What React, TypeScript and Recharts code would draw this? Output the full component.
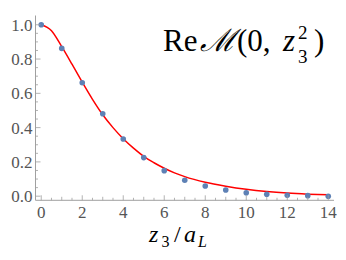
import { ComposedChart, Line, Scatter, XAxis, YAxis } from 'recharts';

// lattice data points
const pointX = [0, 1, 2, 3, 4, 5, 6, 7, 8, 9, 10, 11, 12, 13, 14];
const pointY = [1.0, 0.862, 0.662, 0.481, 0.334, 0.225, 0.149, 0.093, 0.059, 0.036, 0.02, 0.011, 0.005, 0.003, 0.0];

// fitted curve
const curveX = [0, 0.5, 1, 1.5, 2, 2.5, 3, 3.5, 4, 4.5, 5, 5.5, 6, 6.5, 7, 8, 9, 10, 11, 12, 13, 14];
const curveY = [1.0, 0.965, 0.872, 0.77, 0.665, 0.565, 0.475, 0.4, 0.335, 0.28, 0.232, 0.195, 0.163, 0.136, 0.114, 0.081, 0.058, 0.04, 0.027, 0.018, 0.012, 0.008];

const xTicks = Array.from({ length: 29 }, (_, i) => i * 0.5);
const yTicks = Array.from({ length: 21 }, (_, i) => Math.round(i * 5) / 100);

const points = pointX.map((x, i) => ({ x, y: pointY[i] }));
const curve = curveX.map((x, i) => ({ x, y: curveY[i] }));

const W = 346;
const H = 260;
const TOP = 15.5;
const BOTTOM = 200.3;
const LEFT = 35.5;
const RIGHT = 334;
const FRAME = '#a0a0a0';
const LABEL = '#555';
const SERIF = "'Liberation Serif', 'Times New Roman', 'DejaVu Serif', Times, serif";

const isMajorY = (v: number) => Math.round(v * 100) % 20 === 0;

const BottomTick = (props: any) => {
  const { x, payload } = props;
  const v = payload.value;
  const major = Math.abs(v % 2) < 1e-6;
  const len = major ? 5 : Math.abs(v % 1) < 1e-6 ? 3.5 : 2.5;
  return (
    <g>
      <line x1={x} x2={x} y1={BOTTOM} y2={BOTTOM - len} stroke={FRAME} strokeWidth={0.8} />
      {major && (
        <text x={x} y={BOTTOM + 17.5} textAnchor="middle" fill={LABEL} fontFamily={SERIF} fontSize={17}>
          {v}
        </text>
      )}
    </g>
  );
};

const TopTick = (props: any) => {
  const { x, payload } = props;
  const v = payload.value;
  const len = Math.abs(v % 2) < 1e-6 ? 4 : 2.5;
  return <line x1={x} x2={x} y1={TOP} y2={TOP + len} stroke={FRAME} strokeWidth={0.8} />;
};

const LeftTick = (props: any) => {
  const { y, payload } = props;
  const v = payload.value;
  const major = isMajorY(v);
  return (
    <g>
      <line x1={LEFT} x2={LEFT + (major ? 5 : 2.5)} y1={y} y2={y} stroke={FRAME} strokeWidth={0.8} />
      {major && (
        <text x={LEFT - 3} y={y + 6} textAnchor="end" fill={LABEL} fontFamily={SERIF} fontSize={17}>
          {v.toFixed(1)}
        </text>
      )}
    </g>
  );
};

const RightTick = (props: any) => {
  const { y, payload } = props;
  const major = isMajorY(payload.value);
  return <line x1={RIGHT} x2={RIGHT - (major ? 4 : 2.5)} y1={y} y2={y} stroke={FRAME} strokeWidth={0.8} />;
};

export default function App() {
  return (
    <div style={{ position: 'absolute', left: 0, top: 0, width: W, height: H, background: '#fff', fontFamily: SERIF }}>
      <ComposedChart
        width={W}
        height={H}
        margin={{ top: TOP, right: W - RIGHT, bottom: 0, left: 0 }}
      >
        <XAxis
          xAxisId="b"
          type="number"
          dataKey="x"
          domain={[-0.28, 14.28]}
          ticks={xTicks}
          interval={0}
          height={H - BOTTOM}
          tickLine={false}
          tickSize={0}
          tick={<BottomTick />}
          stroke={FRAME}
          allowDataOverflow
        />
        <XAxis
          xAxisId="t"
          orientation="top"
          type="number"
          dataKey="x"
          domain={[-0.28, 14.28]}
          ticks={xTicks}
          interval={0}
          height={0}
          tickLine={false}
          tickSize={0}
          tick={<TopTick />}
          stroke={FRAME}
          allowDataOverflow
        />
        <YAxis
          yAxisId="l"
          type="number"
          domain={[-0.024, 1.054]}
          ticks={yTicks}
          interval={0}
          width={LEFT}
          tickLine={false}
          tickSize={0}
          tick={<LeftTick />}
          stroke={FRAME}
          allowDataOverflow
        />
        <YAxis
          yAxisId="r"
          orientation="right"
          type="number"
          domain={[-0.024, 1.054]}
          ticks={yTicks}
          interval={0}
          width={0}
          tickLine={false}
          tickSize={0}
          tick={<RightTick />}
          stroke={FRAME}
          allowDataOverflow
        />
        <Scatter
          xAxisId="b"
          yAxisId="l"
          data={points}
          dataKey="y"
          fill="#5e81b5"
          shape={(p: any) => <circle cx={p.cx} cy={p.cy} r={2.8} fill="#5e81b5" />}
          isAnimationActive={false}
        />
        <Line
          xAxisId="b"
          yAxisId="l"
          data={curve}
          dataKey="y"
          type="monotone"
          stroke="#ff0000"
          strokeWidth={1.5}
          dot={false}
          activeDot={false}
          isAnimationActive={false}
        />
      </ComposedChart>
      <svg width={W} height={H} style={{ position: 'absolute', left: 0, top: 0, pointerEvents: 'none' }}>
        <g fill="#000" fontFamily={SERIF}>
          <text x={163} y={50.7} fontSize={31}>Re</text>
          <text x={200} y={50.7} fontSize={31} fontStyle="italic">ℳ</text>
          <text x={237} y={50.7} fontSize={31}>(0,</text>
          <text x={283} y={50.7} fontSize={31} fontStyle="italic">z</text>
          <text x={298} y={39} fontSize={19}>2</text>
          <text x={298} y={63} fontSize={19}>3</text>
          <text x={314} y={50.7} fontSize={31}>)</text>
          <text x={149} y={242} fontSize={24} fontStyle="italic">z</text>
          <text x={161.5} y={247} fontSize={16}>3</text>
          <text x={174} y={242} fontSize={24}>/</text>
          <text x={184} y={242} fontSize={24} fontStyle="italic">a</text>
          <text x={198} y={247} fontSize={16} fontStyle="italic">L</text>
        </g>
      </svg>
    </div>
  );
}
